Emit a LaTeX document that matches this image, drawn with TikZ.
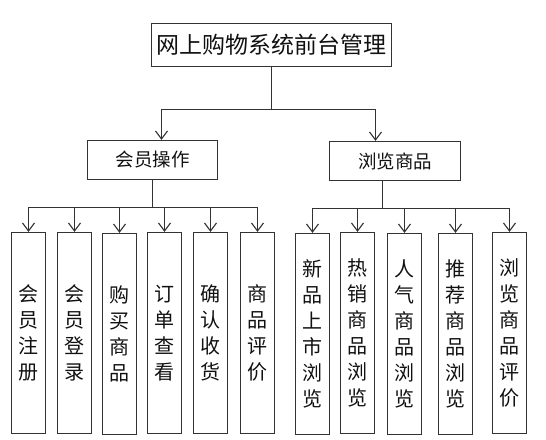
\documentclass[tikz,border=0pt]{standalone}
\usepackage{fontspec}
\setmainfont{Noto Sans CJK SC}
\usepackage{tikz}
\usetikzlibrary{arrows.meta}
\definecolor{OPLine}{HTML}{333333}
\definecolor{OPText}{HTML}{111111}

\begin{document}
\begin{tikzpicture}[x=1pt,y=-1pt,
  box/.style={draw=OPLine,line width=1.2pt,inner sep=0pt,align=center,text=OPText},
  leaf/.style={box,minimum width=34pt,minimum height=201pt,font=\fontsize{20}{26}\selectfont},
  arr/.style={draw=OPLine,line width=1.1pt,-{Straight Barb[length=8pt,width=12pt]}}]
\path[use as bounding box] (0,0) rectangle (546,439);
% top and second level
\node[box,minimum width=240pt,minimum height=43pt,font=\fontsize{23}{23}\selectfont] (top) at (271.5,45) {网上购物系统前台管理};
\node[box,minimum width=130pt,minimum height=39pt,font=\fontsize{18.5}{18.5}\selectfont] (vip) at (152.5,160) {会员操作};
\node[box,minimum width=131pt,minimum height=39pt,font=\fontsize{18.5}{18.5}\selectfont] (browse) at (395,161) {浏览商品};
% member leaves
\node[leaf] (a1) at (28.5,333) {会\\员\\注\\册};
\node[leaf] (a2) at (74.5,333) {会\\员\\登\\录};
\node[leaf] (a3) at (119.5,334) {购\\买\\商\\品};
\node[leaf] (a4) at (164.5,333) {订\\单\\查\\看};
\node[leaf] (a5) at (210.5,333) {确\\认\\收\\货};
\node[leaf] (a6) at (257.5,333) {商\\品\\评\\价};
% browse leaves
\node[leaf] (b1) at (312.5,334) {新\\品\\上\\市\\浏\\览};
\node[leaf] (b2) at (357.5,333) {热\\销\\商\\品\\浏\\览};
\node[leaf] (b3) at (404.5,334) {人\\气\\商\\品\\浏\\览};
\node[leaf] (b4) at (455.5,334) {推\\荐\\商\\品\\浏\\览};
\node[leaf] (b5) at (509.5,333) {浏\\览\\商\\品\\评\\价};
% connectors
\draw[arr] (top.south) -- ++(0,42) -| ([xshift=9pt]vip.north);
\draw[arr] (top.south) -- ++(0,42) -| ([xshift=-19.5pt]browse.north);
\draw[arr] (vip.south) -- ++(0,27) -| (a1.north);
\draw[arr] (vip.south) -- ++(0,27) -| (a2.north);
\draw[arr] (vip.south) -- ++(0,27) -| (a3.north);
\draw[arr] (vip.south) -- ++(0,27) -| (a4.north);
\draw[arr] (vip.south) -- ++(0,27) -| (a5.north);
\draw[arr] (vip.south) -- ++(0,27) -| (a6.north);
\draw[arr] ([xshift=-12.5pt]browse.south) -- ++(0,27) -| (b1.north);
\draw[arr] ([xshift=-12.5pt]browse.south) -- ++(0,27) -| (b2.north);
\draw[arr] ([xshift=-12.5pt]browse.south) -- ++(0,27) -| (b3.north);
\draw[arr] ([xshift=-12.5pt]browse.south) -- ++(0,27) -| (b4.north);
\draw[arr] ([xshift=-12.5pt]browse.south) -- ++(0,27) -| (b5.north);
\end{tikzpicture}
\end{document}
